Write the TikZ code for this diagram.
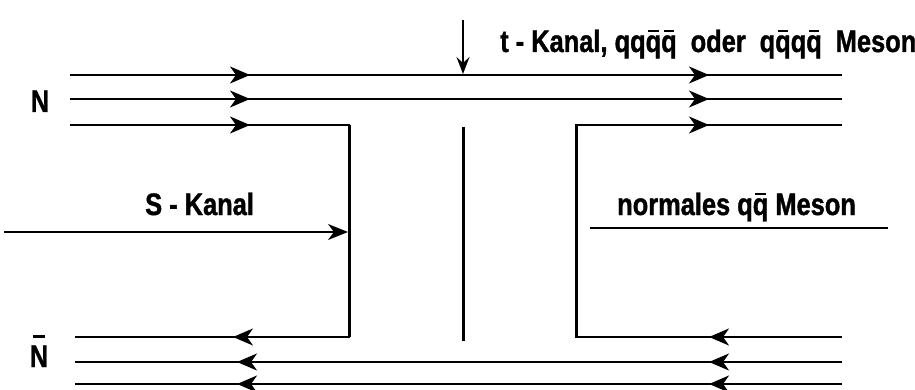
\documentclass[tikz,border=0pt]{standalone}
\usepackage{fontspec}
\usetikzlibrary{arrows.meta,decorations.markings}
\newfontfamily\labfont{Liberation Sans}[FakeStretch=0.82,BoldFeatures={FakeBold=1.2}]
\newcommand\qbr{\ooalign{q\cr\hidewidth\rule[0.64em]{0.34em}{0.07em}\hidewidth}}
\newcommand\Nbr{\ooalign{N\cr\hidewidth\rule[0.95em]{0.36em}{0.07em}\hidewidth}}
\newcommand\wsp{\hspace{0.45em}}
\tikzset{
  x=1pt,y=-1pt,
  qhead/.tip={Stealth[length=20pt,width=17pt,inset=6pt]},
  ln/.style={line width=2pt},
  vert/.style={line width=3pt},
  mk2/.style 2 args={postaction={decorate},decoration={markings,mark=at position #1 with {\arrow{qhead}},mark=at position #2 with {\arrow{qhead}}}},
  lab/.style={font=\labfont\bfseries\fontsize{31}{33}\selectfont,inner sep=0pt}
}
\begin{document}
\begin{tikzpicture}
\useasboundingbox (0,0) rectangle (915,390);
% coordinates
\coordinate (a1) at (70,75);  \coordinate (b1) at (842,75);
\coordinate (a2) at (70,99);  \coordinate (b2) at (842,99);
\coordinate (a3) at (70,125); \coordinate (c3) at (349,125); \coordinate (d3) at (349,337); \coordinate (e3) at (75,337);
\coordinate (f3) at (842,125); \coordinate (g3) at (576,125); \coordinate (h3) at (576,337); \coordinate (k3) at (842,337);
\coordinate (a5) at (842,362); \coordinate (b5) at (75,362);
\coordinate (a6) at (842,384); \coordinate (b6) at (75,384);
\coordinate (m1) at (463,127); \coordinate (m2) at (463,341);
\coordinate (t1) at (463,20); \coordinate (t2) at (463,74);
\coordinate (s1) at (4,232); \coordinate (s2) at (348,232);
\coordinate (r1) at (590,228); \coordinate (r2) at (888,228);
% quark lines
\draw[ln,mk2={180pt}{639pt}] (a1) -- (b1);
\draw[ln,mk2={180pt}{639pt}] (a2) -- (b2);
\draw[ln,mk2={180pt}{607pt}] (a3) -- (c3) -- (d3) -- (e3);
\draw[ln,mk2={133pt}{611pt}] (k3) -- (h3) -- (g3) -- (f3);
\draw[ln,mk2={133pt}{605pt}] (a5) -- (b5);
\draw[ln,mk2={133pt}{605pt}] (a6) -- (b6);
\draw[vert] (c3) -- (d3);
\draw[vert] (g3) -- (h3);
\draw[vert] (m1) -- (m2);
% channel arrows
\draw[ln,-{Stealth[length=17pt,width=13pt,inset=6pt]}] (t1) -- (t2);
\draw[ln,-{Stealth[length=20pt,width=16pt,inset=6pt]}] (s1) -- (s2);
\draw[ln] (r1) -- (r2);
% labels
\node[lab,anchor=base west] (tl) at (500,52) {t - Kanal, qq\qbr\qbr\wsp oder\wsp q\qbr q\qbr\wsp Meson};
\node[lab,anchor=base west] (sl) at (145,215) {S - Kanal};
\node[lab,anchor=base west] (nl) at (617,215) {normales q\qbr\ Meson};
\node[lab,anchor=base] (N) at (40,112) {N};
\node[lab,anchor=base] (Nb) at (39,367) {\Nbr};
\end{tikzpicture}
\end{document}
